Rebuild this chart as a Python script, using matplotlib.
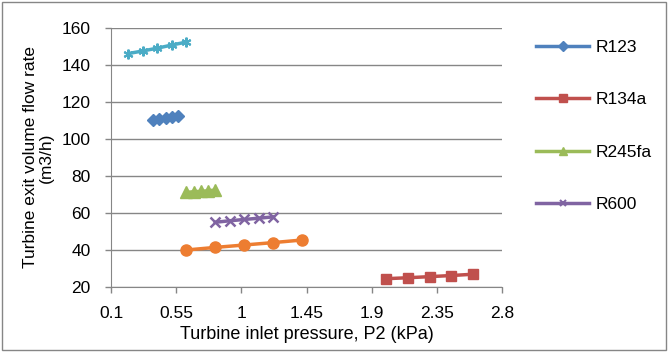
import matplotlib.pyplot as plt
from matplotlib.patches import Rectangle
from matplotlib.lines import Line2D

# Data
r123_p = [0.39, 0.43, 0.48, 0.52, 0.56]
r123_v = [110.5, 111.0, 111.6, 111.9, 112.4]

r134a_p = [2.00, 2.15, 2.30, 2.45, 2.60]
r134a_v = [24.5, 25.0, 25.6, 26.2, 26.9]

r245fa_p = [0.62, 0.67, 0.72, 0.77, 0.82]
r245fa_v = [71.1, 71.5, 71.7, 72.0, 72.4]

r600_p = [0.82, 0.92, 1.02, 1.12, 1.22]
r600_v = [55.0, 55.8, 56.5, 57.2, 57.9]

s5_p = [0.22, 0.32, 0.42, 0.52, 0.62]
s5_v = [146.2, 147.6, 149.1, 150.8, 152.4]

s6_p = [0.62, 0.82, 1.02, 1.22, 1.42]
s6_v = [40.0, 41.4, 42.7, 44.0, 45.4]

xticks = [0.1, 0.55, 1, 1.45, 1.9, 2.35, 2.8]
xtick_labels = ['0.1', '0.55', '1', '1.45', '1.9', '2.35', '2.8']
yticks = [20, 40, 60, 80, 100, 120, 140, 160]

plt.rcParams['font.family'] = ['Liberation Sans', 'DejaVu Sans']

fig = plt.figure(figsize=(6.68, 3.52), dpi=100)
W, H = 668, 352
ax = fig.add_axes([111 / W, 1 - 287 / H, (502 - 111) / W, (287 - 28) / H])

lw = 2.5
ax.plot(s5_p, s5_v, color='#4BACC6', lw=lw, marker=(6, 2, 0), ms=7, mew=1.5)
ax.plot(r123_p, r123_v, color='#4F81BD', lw=lw, marker='D', ms=6)
ax.plot(r245fa_p, r245fa_v, color='#9BBB59', lw=lw, marker='^', ms=8)
ax.plot(r600_p, r600_v, color='#8064A2', lw=lw, marker='x', ms=7, mew=1.8)
ax.plot(s6_p, s6_v, color='#ED7D31', lw=lw, marker='o', ms=8)
ax.plot(r134a_p, r134a_v, color='#C0504D', lw=lw, marker='s', ms=7)

ax.set_xlim(0.1, 2.8)
ax.set_ylim(20, 160)
ax.set_xticks(xticks)
ax.set_xticklabels(xtick_labels)
ax.set_yticks(yticks)
ax.tick_params(axis='both', labelsize=12.5, colors='#868686', labelcolor='black',
               direction='out', length=4, width=1)
ax.tick_params(axis='x', pad=10)
ax.tick_params(axis='y', pad=10.5)
ax.grid(axis='y', color='#868686', lw=1)
ax.set_axisbelow(True)
for s in ['top', 'right']:
    ax.spines[s].set_visible(False)
for s in ['left', 'bottom']:
    ax.spines[s].set_color('#868686')

ax.set_xlabel('Turbine inlet pressure, P2 (kPa)', fontsize=13, labelpad=3)
ax.set_ylabel('Turbine exit volume flow rate\n(m3/h)', fontsize=12.5,
              linespacing=1.1)
ax.yaxis.set_label_coords(-0.145, 0.5)

handles = [
    Line2D([], [], color='#4F81BD', lw=lw, marker='D', ms=5),
    Line2D([], [], color='#C0504D', lw=lw, marker='s', ms=6),
    Line2D([], [], color='#9BBB59', lw=lw, marker='^', ms=6),
    Line2D([], [], color='#8064A2', lw=lw, marker='x', ms=5, mew=1.5),
]
fig.legend(handles, ['R123', 'R134a', 'R245fa', 'R600'], loc='upper left',
           bbox_to_anchor=(520 / W, 1 - 24 / H), frameon=False, fontsize=12.5,
           handlelength=3.1, handletextpad=0.35, labelspacing=2.15)

fig.patches.append(Rectangle((2 / W, 2 / H), 1 - 4 / W, 1 - 4 / H,
                             transform=fig.transFigure, fill=False,
                             edgecolor='#868686', lw=1))

fig.savefig('out.png', dpi=100)
